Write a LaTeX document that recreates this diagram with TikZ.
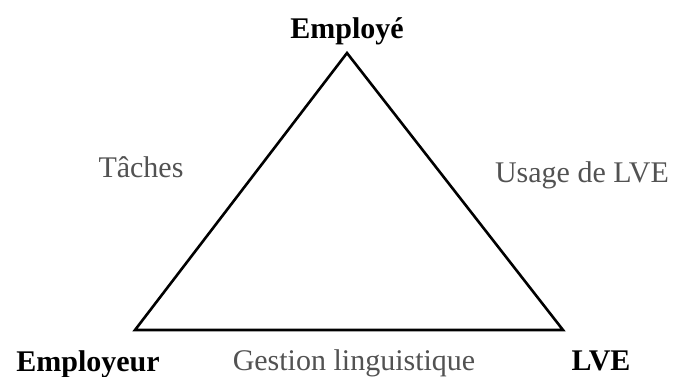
\documentclass[tikz,border=0pt]{standalone}
\usepackage{fontspec}
\setmainfont{Liberation Serif}
\usepackage{tikz}
\usepackage{xcolor}
\usetikzlibrary{positioning}

\begin{document}
\begin{tikzpicture}[x=1pt, y=-1pt,
        vertex/.style={font=\fontsize{30}{36}\selectfont\bfseries, anchor=base, inner sep=0pt},
        side/.style={font=\fontsize{30}{36}\selectfont, text=black!68, anchor=base, inner sep=0pt}]
        \useasboundingbox (0, 0) rectangle (675, 376);

        \coordinate (top) at (347, 53);
        \coordinate (left) at (135, 330);
        \coordinate (right) at (563, 330);

        \draw[line width=2.6pt, line join=miter] (top) -- (left) -- (right) -- cycle;

        \node[vertex] (employe) at (347, 38) {Employé};
        \node[vertex] (employeur) at (88, 371) {Employeur};
        \node[vertex] (lve) at (601, 370) {LVE};

        \node[side] (taches) at (141, 177) {Tâches};
        \node[side] (usage) at (582, 182) {Usage de LVE};
        \node[side] (gestion) at (354, 370) {Gestion linguistique};
    \end{tikzpicture}
\end{document}
